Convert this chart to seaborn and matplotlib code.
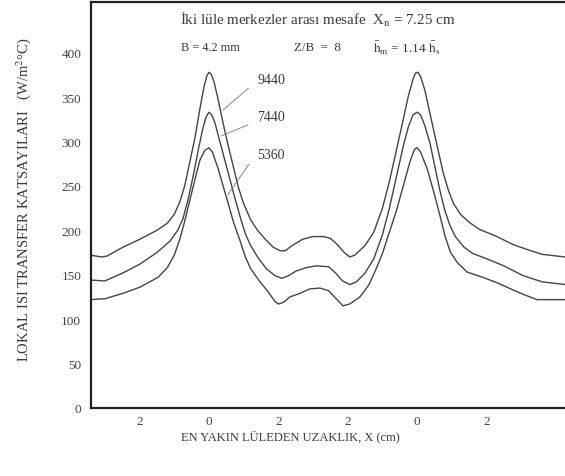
import numpy as np
import pandas as pd
import matplotlib
matplotlib.use("Agg")
import matplotlib.pyplot as plt
import seaborn as sns

# distance along the plate (cm), first nozzle at 0, second nozzle at 6
x_9440 = [-3.4, -3.1, -2.94, -2.48, -1.99, -1.5, -1.2, -1.0, -0.84, -0.7, -0.55, -0.4, -0.26, -0.14,
          -0.06, 0.0, 0.06, 0.14, 0.25, 0.4, 0.55, 0.7, 0.85, 1.0, 1.2, 1.4, 1.6, 1.85, 2.05, 2.2,
          2.4, 2.7, 3.0, 3.3, 3.5, 3.7, 3.9, 4.06, 4.2, 4.5, 4.75, 5.0, 5.2, 5.4, 5.6, 5.75, 5.88,
          5.95, 6.02, 6.1, 6.22, 6.4, 6.57, 6.75, 6.9, 7.05, 7.25, 7.5, 7.8, 8.3, 8.76, 9.2, 9.6, 10.26]
h_9440 = [172, 170, 171, 181, 190, 200, 208, 218, 232, 250, 277, 305, 337, 362,
          374, 378, 376, 368, 350, 322, 296, 272, 248, 230, 212, 200, 191, 181, 177, 177,
          183, 190, 193, 193, 191, 184, 175, 170, 172, 183, 198, 225, 255, 290, 325, 352, 370,
          377, 378, 373, 358, 326, 296, 265, 245, 230, 218, 209, 201, 193, 184, 178, 173, 170]

x_7440 = [-3.4, -3.0, -2.48, -1.99, -1.5, -1.12, -0.9, -0.75, -0.6, -0.45, -0.3, -0.18, -0.08, 0.0,
          0.08, 0.18, 0.3, 0.45, 0.6, 0.75, 0.9, 1.05, 1.2, 1.4, 1.65, 1.9, 2.1, 2.3, 2.5, 2.8,
          3.1, 3.45, 3.65, 3.85, 4.06, 4.25, 4.5, 4.75, 5.0, 5.2, 5.4, 5.6, 5.75, 5.88, 6.0,
          6.1, 6.22, 6.37, 6.52, 6.66, 6.8, 6.95, 7.1, 7.35, 7.6, 8.0, 8.5, 9.05, 9.6, 10.26]
h_7440 = [144, 143, 152, 162, 175, 188, 200, 213, 235, 262, 292, 314, 328, 333,
          330, 320, 302, 280, 258, 236, 215, 196, 183, 170, 157, 149, 146, 149, 154, 158,
          160, 159, 152, 143, 139, 142, 152, 168, 195, 225, 260, 295, 317, 330, 333,
          330, 318, 298, 270, 244, 222, 205, 193, 181, 174, 168, 160, 149, 142, 139]

x_5360 = [-3.4, -3.0, -2.48, -1.99, -1.47, -1.2, -1.0, -0.84, -0.7, -0.55, -0.4, -0.26, -0.12, 0.0,
          0.1, 0.26, 0.4, 0.55, 0.7, 0.89, 1.05, 1.2, 1.45, 1.7, 1.9, 2.0, 2.15, 2.33, 2.62,
          2.9, 3.2, 3.45, 3.69, 3.86, 4.05, 4.35, 4.6, 4.8, 5.0, 5.2, 5.4, 5.6, 5.79, 5.92, 6.0,
          6.1, 6.3, 6.5, 6.66, 6.8, 6.95, 7.15, 7.44, 7.9, 8.3, 8.7, 9.05, 9.45, 10.26]
h_5360 = [122, 123, 129, 136, 147, 158, 172, 190, 210, 234, 258, 279, 290, 293,
          288, 270, 251, 231, 210, 189, 170, 157, 143, 131, 120, 117, 119, 125, 129,
          134, 135, 132, 122, 115, 117, 125, 138, 155, 174, 198, 222, 250, 277, 291, 293,
          288, 268, 240, 216, 194, 176, 164, 153, 147, 141, 134, 128, 122, 122]

curve_labels = ["9440", "7440", "5360"]
label_from_x = [0.34, 0.28, 0.5]     # where the leader line touches the curve
label_text_xy = [(1.2, 362), (1.2, 320), (1.2, 277)]

tick_pos = [-2, 0, 2, 4, 6, 8]
tick_txt = ["2", "0", "2", "2", "0", "2"]
ytick_pos = list(range(0, 401, 50))

df = pd.concat([
    pd.DataFrame({"x": x_9440, "h": h_9440, "Re": "9440"}),
    pd.DataFrame({"x": x_7440, "h": h_7440, "Re": "7440"}),
    pd.DataFrame({"x": x_5360, "h": h_5360, "Re": "5360"}),
])

sns.set_style("white")
plt.rcParams["font.family"] = ["Liberation Serif", "DejaVu Serif"]
plt.rcParams["mathtext.fontset"] = "stix"

fig = plt.figure(figsize=(5.65, 4.77), dpi=100)
ax = fig.add_axes([0.161, 0.1426, 0.839, 0.851])

sns.lineplot(data=df, x="x", y="h", hue="Re", units="Re", estimator=None, sort=False,
             palette=["#444444"] * 3, linewidth=1.0, legend=False, ax=ax)

txt_col = "#3a3a3a"
for lab, x0, (tx, ty), xs, hs in zip(curve_labels, label_from_x, label_text_xy,
                                     [x_9440, x_7440, x_5360], [h_9440, h_7440, h_5360]):
    y0 = np.interp(x0, xs, hs)
    ax.annotate("", xy=(x0, y0), xytext=(tx, ty),
                arrowprops=dict(arrowstyle="-", color="#777777", lw=0.6))
    ax.text(tx + 0.2, ty + 1, lab, fontsize=10, color=txt_col, ha="left", va="bottom")

ax.text(0.479, 0.958, "İki lüle merkezler arası mesafe  X$_{\\rm n}$ = 7.25 cm",
        transform=ax.transAxes, ha="center", va="center", fontsize=10.8, color=txt_col)
ax.text(0.253, 0.889, "B = 4.2 mm", transform=ax.transAxes, ha="center", va="center",
        fontsize=8.8, color=txt_col)
ax.text(0.477, 0.889, "Z/B  =  8", transform=ax.transAxes, ha="center", va="center",
        fontsize=9.3, color=txt_col)
ax.text(0.667, 0.889, "$\\bar{\\rm h}_{\\rm m}$ = 1.14 $\\bar{\\rm h}_{\\rm s}$",
        transform=ax.transAxes, ha="center", va="center", fontsize=9.5, color=txt_col)

ax.set_xlim(-3.4, 10.26)
ax.set_ylim(0, 457)
ax.set_xticks(tick_pos)
ax.set_xticklabels(tick_txt)
ax.set_yticks(ytick_pos)

ax.set_xlabel("EN YAKIN LÜLEDEN UZAKLIK, X (cm)", fontsize=9, color=txt_col)
ax.xaxis.set_label_coords(0.42, -0.052)
ax.set_ylabel("LOKAL ISI TRANSFER KATSAYILARI   (W/m$^2$°C)", fontsize=10.5, color=txt_col)
ax.yaxis.set_label_coords(-0.122, 0.515)

ax.tick_params(axis="both", direction="in", length=4, width=1.2, colors="#222222",
               labelsize=9.5, labelcolor="#444444")
ax.tick_params(axis="y", pad=7)
ax.tick_params(axis="x", pad=5)
for i, t in enumerate(ax.xaxis.get_major_ticks()):
    if tick_txt[i] == "0":
        t.tick1line.set_markeredgewidth(2.2)
        t.tick1line.set_markersize(5)
    else:
        t.tick1line.set_markeredgewidth(0.8)
        t.tick1line.set_markersize(3)

for s in ["left", "bottom", "top"]:
    ax.spines[s].set_linewidth(1.6)
    ax.spines[s].set_color("#222222")
ax.spines["right"].set_visible(False)

fig.savefig("out.png", dpi=100)
